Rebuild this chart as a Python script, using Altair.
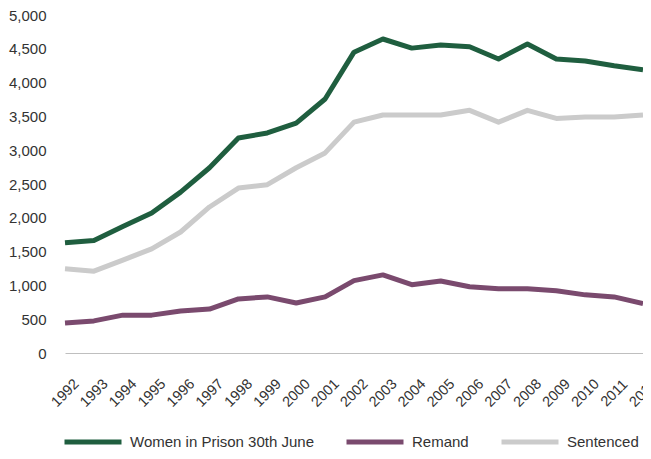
import altair as alt
import pandas as pd

years = [str(y) for y in range(1992, 2013)]
women = [1630, 1665, 1870, 2070, 2380, 2740, 3180, 3255, 3400, 3757, 4450, 4645, 4510,
         4555, 4530, 4350, 4570, 4350, 4320, 4250, 4190]
remand = [445, 475, 560, 560, 620, 650, 800, 830, 740, 830, 1070, 1155, 1010,
          1065, 980, 950, 950, 920, 860, 830, 730]
sentenced = [1245, 1210, 1375, 1540, 1790, 2160, 2440, 2490, 2740, 2960, 3415, 3520, 3520,
             3520, 3590, 3415, 3590, 3470, 3490, 3490, 3520]
series = ["Women in Prison 30th June", "Remand", "Sentenced"]
colors = ["#1F5E3F", "#7A4A6E", "#CBCBCB"]
y_ticks = list(range(0, 5001, 500))

rows = []
for name, vals in zip(series, [women, remand, sentenced]):
    for yr, v in zip(years, vals):
        rows.append({"Year": yr, "Value": v, "Series": name})
df = pd.DataFrame(rows)

FONT = "Liberation Sans"

chart = alt.Chart(df).mark_line(strokeWidth=5, strokeJoin="round").encode(
    x=alt.X("Year:O", sort=years,
            scale=alt.Scale(type="point", padding=0),
            axis=alt.Axis(title=None, labelAngle=-45, labelAlign="center", labelBaseline="middle",
                          ticks=False, tickSize=0, labelPadding=40, grid=False,
                          domainColor="#BFBFBF", domainWidth=1.2,
                          labelFont=FONT, labelFontSize=14.5, labelColor="#333333")),
    y=alt.Y("Value:Q", scale=alt.Scale(domain=[0, 5000], nice=False),
            axis=alt.Axis(title=None, values=y_ticks, format=",d", grid=False, domain=False,
                          ticks=False, tickSize=0, labelPadding=19,
                          labelFont=FONT, labelFontSize=15, labelColor="#333333")),
    color=alt.Color("Series:N", sort=series,
                    scale=alt.Scale(domain=series, range=colors),
                    legend=alt.Legend(title=None, orient="none", direction="horizontal",
                                      legendX=-3, legendY=396, symbolType="stroke",
                                      symbolSize=3249, symbolStrokeWidth=5,
                                      labelOffset=6, columnPadding=22, labelLimit=0,
                                      labelFont=FONT, labelFontSize=15, labelColor="#333333")),
    order=alt.Order("Year:O"),
).properties(
    width=578, height=338,
    padding={"left": 57, "top": 7, "right": 0, "bottom": 98},
    autosize=alt.AutoSizeParams(type="none"),
).configure_view(stroke=None)

chart.save("out.html", embed_options={"renderer": "svg", "actions": False})
